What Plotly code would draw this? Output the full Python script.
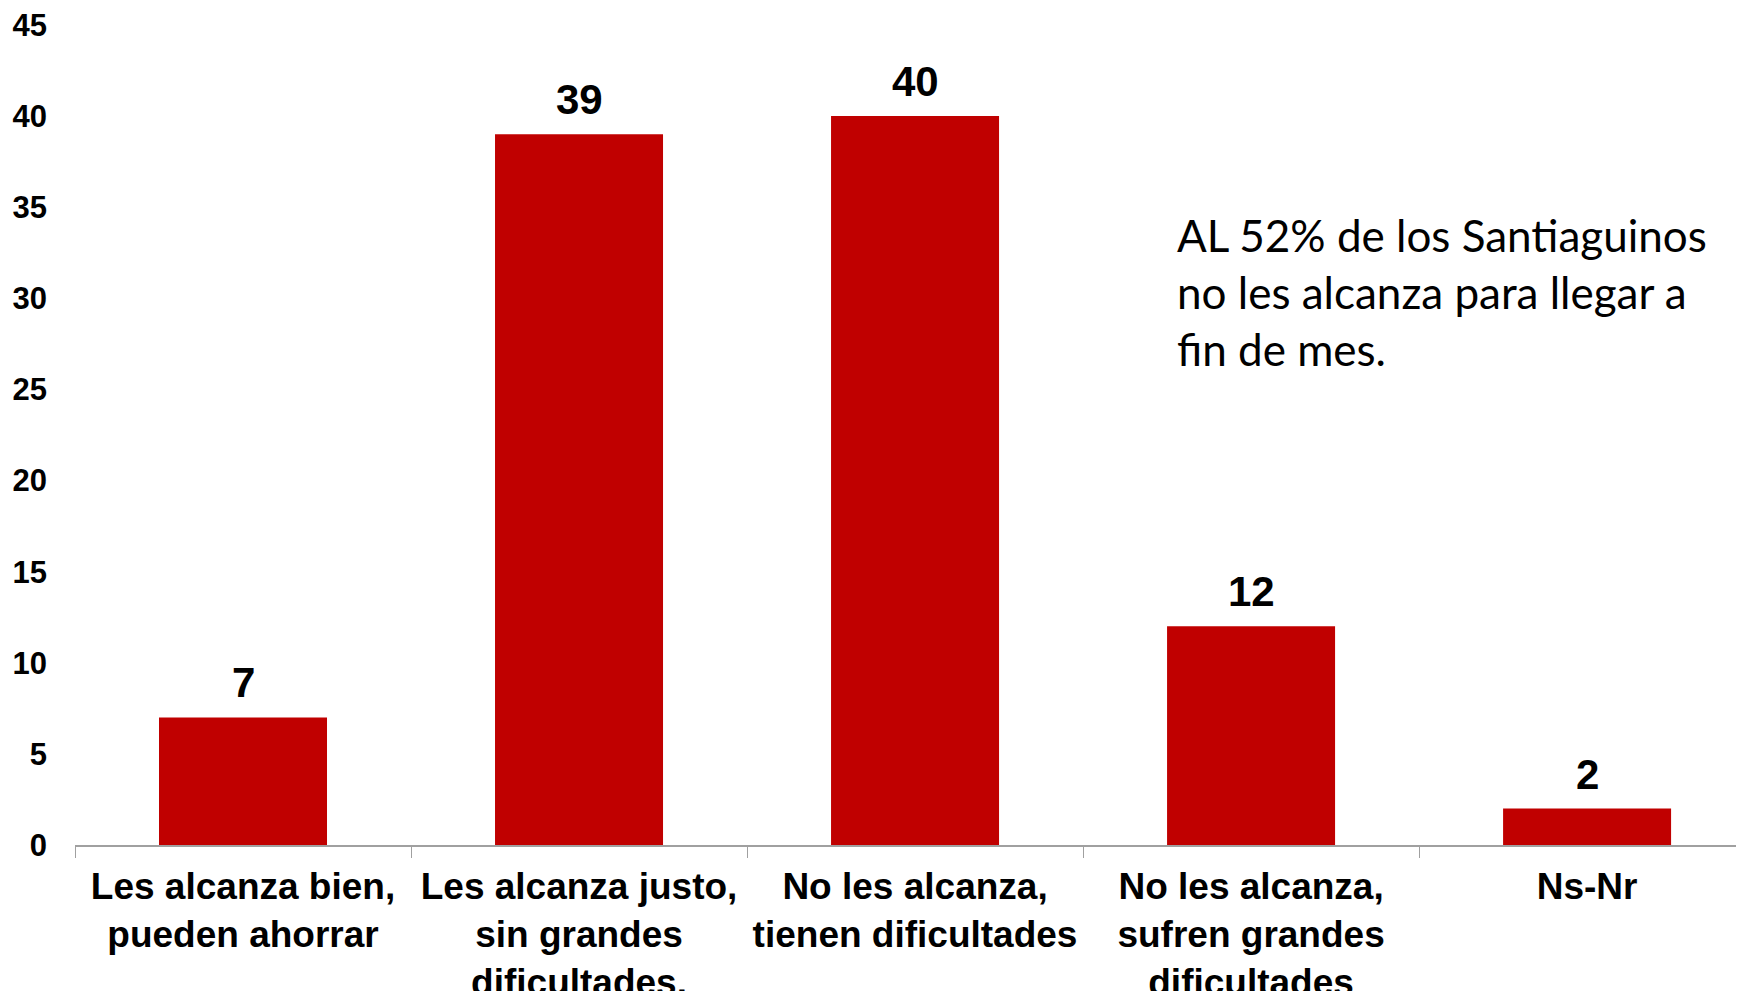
import plotly.graph_objects as go

# ------------ data ------------
categories = [
    "Les alcanza bien,<br>pueden ahorrar",
    "Les alcanza justo,<br>sin grandes<br>dificultades.",
    "No les alcanza,<br>tienen dificultades",
    "No les alcanza,<br>sufren grandes<br>dificultades",
    "Ns-Nr",
]
values = [7, 39, 40, 12, 2]
y_ticks = [0, 5, 10, 15, 20, 25, 30, 35, 40, 45]
note_text = "AL 52% de los Santiaguinos<br>no les alcanza para llegar a<br>fin de mes."

RED = "#C00000"
FONT = "Liberation Sans, Arial, sans-serif"

fig = go.Figure()
fig.add_trace(go.Bar(
    x=categories, y=values,
    width=0.5,
    marker=dict(color=RED, line=dict(width=0)),
))

# etiquetas de valor sobre cada barra
for cat, v in zip(categories, values):
    fig.add_annotation(
        x=cat, y=v, text=str(v), showarrow=False,
        yanchor="bottom", yshift=9,
        font=dict(family=FONT, size=42, color="black", weight="bold"),
    )

# nota a la derecha
fig.add_annotation(
    x=2.774, y=30.33, xref="x", yref="y",
    text=note_text, showarrow=False,
    xanchor="left", yanchor="middle", align="left",
    font=dict(family="Lato, Open Sans, sans-serif", size=44, color="black"),
)

# la pagina tiene 8px de margen en el body -> se compensa aqui
fig.update_layout(
    width=1744, height=991,
    margin=dict(l=67, r=8, t=16.5, b=154),
    plot_bgcolor="white", paper_bgcolor="white",
    showlegend=False,
)
fig.update_xaxes(
    range=[-0.5, 4.467],
    automargin=False,
    showline=True, linecolor="#A0A0A0", linewidth=1.5,
    ticks="outside", tickson="boundaries", ticklen=11, tickcolor="#A0A0A0",
    ticklabelstandoff=8,
    ticklabeloverflow="allow",
    tickfont=dict(family=FONT, size=37, color="black", weight="bold"),
    tickangle=0,
    showgrid=False,
)
fig.update_yaxes(
    range=[0, 45],
    automargin=False,
    tickvals=y_ticks,
    showgrid=False, zeroline=False, showline=False,
    ticks="",
    ticklabelstandoff=27,
    ticklabeloverflow="allow",
    tickfont=dict(family=FONT, size=31, color="black", weight="bold"),
)

fig.write_html("out.html")
